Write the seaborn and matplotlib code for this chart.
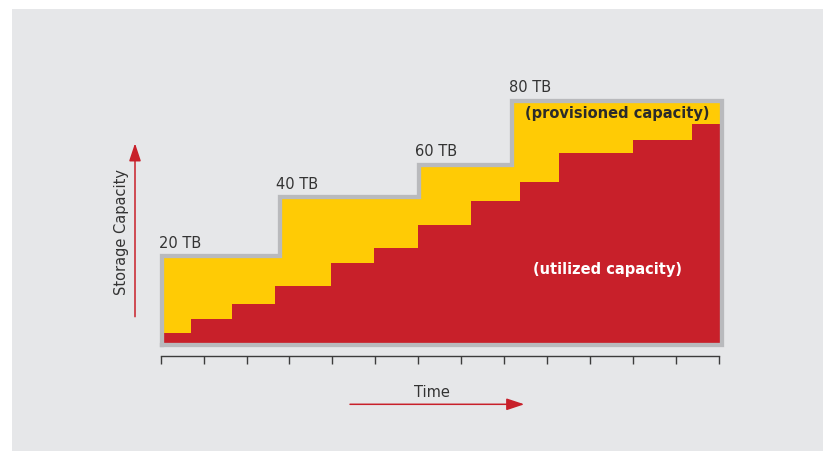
import matplotlib
matplotlib.use("Agg")
import matplotlib.pyplot as plt
import seaborn as sns
import numpy as np
import pandas as pd
from matplotlib.patches import Rectangle

# ---------------- data ----------------
# time axis: 13 periods, ticks at 0..13
tick_positions = list(range(14))

# provisioned capacity steps (schematic units; top level = 100)
prov_edges = [0.03, 2.77, 6.01, 8.19, 13.08]
prov_levels = [36.3, 60.4, 73.7, 100.0]
prov_labels = ["20 TB", "40 TB", "60 TB", "80 TB"]

# utilized capacity steps
util_edges = [0.03, 0.70, 1.65, 2.66, 3.97, 4.98, 5.99, 7.22, 8.38, 9.29, 11.01, 12.39, 13.08]
util_levels = [5.0, 10.5, 16.6, 24.3, 33.4, 39.8, 49.1, 59.0, 66.5, 78.7, 84.0, 90.5]

# ---------------- style ----------------
YELLOW = "#FFCB05"
RED = "#C8202A"
GRAY = "#B9BABD"
BG = "#E6E7E9"
TXT = "#333333"

sns.set_theme(style="white")
plt.rcParams["font.family"] = ["DejaVu Sans"]

W, H = 825, 451
fig = plt.figure(figsize=(W / 100, H / 100), dpi=100, facecolor="white")
fig.patches.append(Rectangle((12 / W, 0), (823 - 12) / W, (451 - 9) / H,
                             transform=fig.transFigure, facecolor=BG,
                             edgecolor="none", zorder=-10))

# axes placed in pixel box
ax_l, ax_r, ax_t, ax_b = 140, 740, 60, 345
ax = fig.add_axes([ax_l / W, 1 - ax_b / H, (ax_r - ax_l) / W, (ax_b - ax_t) / H])
ax.set_facecolor("none")
px_per_t = 42.91
t0_px = 160.7
px_per_u = 2.445
ax.set_xlim((ax_l - t0_px) / px_per_t, (ax_r - t0_px) / px_per_t)
ax.set_ylim(0, (ax_b - ax_t) / px_per_u)

# yellow provisioned fill
px_ = np.array(prov_edges)
py_ = np.append(prov_levels, prov_levels[-1])
ax.fill_between(px_, py_, 0, step="post", color=YELLOW, linewidth=0, zorder=1)

# red utilized fill
ux_ = np.array(util_edges)
uy_ = np.append(util_levels, util_levels[-1])
ax.fill_between(ux_, uy_, 0, step="post", color=RED, linewidth=0, zorder=2)

# gray outline (closed step path)
ox = [prov_edges[0]]
oy = [0]
for i, lv in enumerate(prov_levels):
    ox += [prov_edges[i], prov_edges[i + 1]]
    oy += [lv, lv]
ox += [prov_edges[-1], prov_edges[0]]
oy += [0, 0]
outline = pd.DataFrame({"t": ox, "cap": oy, "order": range(len(ox))})
sns.lineplot(data=outline, x="t", y="cap", sort=False, estimator=None,
             color=GRAY, linewidth=3.1, ax=ax, zorder=3, clip_on=False)
for ln in ax.lines:
    ln.set_solid_joinstyle("miter")
    ln.set_solid_capstyle("projecting")

# TB labels
for i, lab in enumerate(prov_labels):
    ax.annotate(lab, xy=(prov_edges[i], prov_levels[i]), xytext=(-2.5, 6.2),
                textcoords="offset points", ha="left", va="baseline",
                fontsize=10.5, color=TXT, annotation_clip=False)

# area labels
ax.annotate("(provisioned capacity)",
            xy=((prov_edges[-2] + prov_edges[-1]) / 2, prov_levels[-1]),
            xytext=(0, -9), textcoords="offset points", ha="center", va="center",
            fontsize=10.5, fontweight="bold", color="#2b2b2b")
ax.text(10.42, 30.7, "(utilized capacity)", ha="center", va="center",
        fontsize=10.5, fontweight="bold", color="white")

# axis: ticks only
for s in ["left", "right", "top"]:
    ax.spines[s].set_visible(False)
ax.spines["bottom"].set_position(("outward", 8.0))
ax.spines["bottom"].set_bounds(tick_positions[0], tick_positions[-1])
ax.spines["bottom"].set_color("#3c3c3c")
ax.spines["bottom"].set_linewidth(1.0)
ax.set_xticks(tick_positions)
ax.set_xticklabels([])
ax.set_yticks([])
ax.tick_params(axis="x", direction="out", length=5.8, width=1.0,
               color="#3c3c3c", bottom=True)
ax.set_xlabel("")
ax.set_ylabel("")

# axis titles with arrows
arrow_kw = dict(arrowstyle="-|>,head_length=1.08,head_width=0.36",
                mutation_scale=10, lw=1.1, color=RED, shrinkA=0, shrinkB=0)
fig.add_artist(matplotlib.patches.FancyArrowPatch(
    (135, H - 316.7), (135, H - 143.3), transform=None, **arrow_kw))
fig.add_artist(matplotlib.patches.FancyArrowPatch(
    (350, H - 404.3), (524.3, H - 404.3), transform=None, **arrow_kw))
fig.text(121.7 / W, 1 - 232 / H, "Storage Capacity", rotation=90,
         ha="center", va="center", fontsize=10.5, color=TXT)
fig.text(431.7 / W, 1 - 392.3 / H, "Time", ha="center", va="center",
         fontsize=10.5, color=TXT)

fig.savefig("out.png", dpi=100, facecolor="white")
